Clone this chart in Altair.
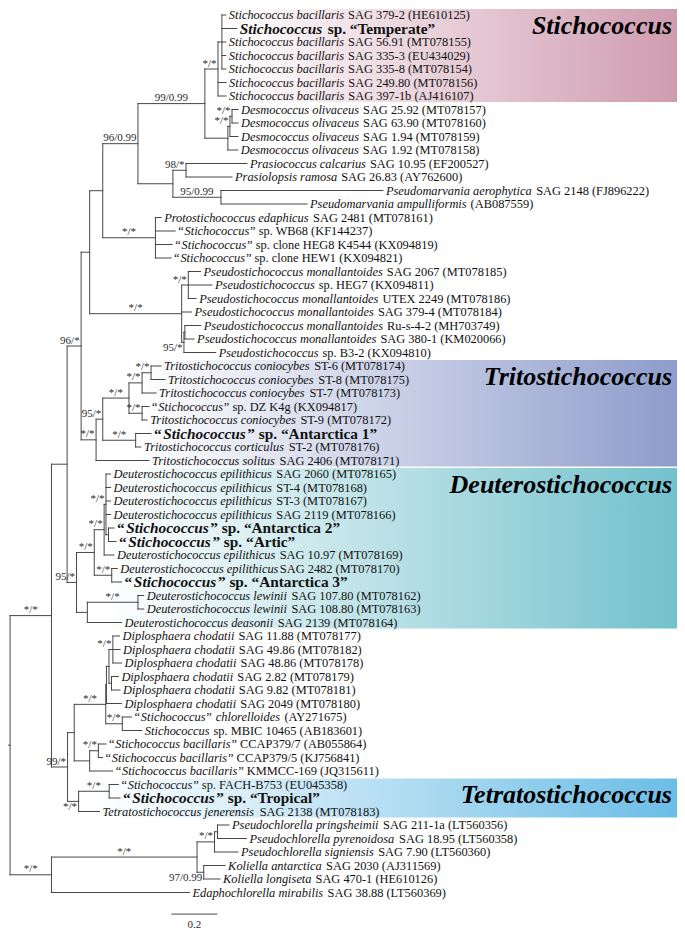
import re
import altair as alt
import pandas as pd

# ---------------- data ----------------
leaf_labels = [
    "*Stichococcus bacillaris* SAG 379-2 (HE610125)",
    "*Stichococcus* sp. “Temperate”",
    "*Stichococcus bacillaris* SAG 56.91 (MT078155)",
    "*Stichococcus bacillaris* SAG 335-3 (EU434029)",
    "*Stichococcus bacillaris* SAG 335-8 (MT078154)",
    "*Stichococcus bacillaris* SAG 249.80 (MT078156)",
    "*Stichococcus bacillaris* SAG 397-1b (AJ416107)",
    "*Desmococcus olivaceus* SAG 25.92 (MT078157)",
    "*Desmococcus olivaceus* SAG 63.90 (MT078160)",
    "*Desmococcus olivaceus* SAG 1.94 (MT078159)",
    "*Desmococcus olivaceus* SAG 1.92 (MT078158)",
    "*Prasiococcus calcarius* SAG 10.95 (EF200527)",
    "*Prasiolopsis ramosa* SAG 26.83 (AY762600)",
    "*Pseudomarvania aerophytica* SAG 2148 (FJ896222)",
    "*Pseudomarvania ampulliformis* (AB087559)",
    "*Protostichococcus edaphicus* SAG 2481 (MT078161)",
    "“*Stichococcus*” sp. WB68 (KF144237)",
    "“*Stichococcus*” sp. clone HEG8 K4544 (KX094819)",
    "“*Stichococcus*” sp. clone HEW1 (KX094821)",
    "*Pseudostichococcus monallantoides* SAG 2067 (MT078185)",
    "*Pseudostichococcus* sp. HEG7 (KX094811)",
    "*Pseudostichococcus monallantoides* UTEX 2249 (MT078186)",
    "*Pseudostichococcus monallantoides* SAG 379-4 (MT078184)",
    "*Pseudostichococcus monallantoides* Ru-s-4-2 (MH703749)",
    "*Pseudostichococcus monallantoides* SAG 380-1 (KM020066)",
    "*Pseudostichococcus* sp. B3-2 (KX094810)",
    "*Tritostichococcus coniocybes* ST-6 (MT078174)",
    "*Tritostichococcus coniocybes* ST-8 (MT078175)",
    "*Tritostichococcus coniocybes* ST-7 (MT078173)",
    "“*Stichococcus*” sp. DZ K4g (KX094817)",
    "*Tritostichococcus coniocybes* ST-9 (MT078172)",
    "“*Stichococcus*” sp. “Antarctica 1”",
    "*Tritostichococcus corticulus* ST-2 (MT078176)",
    "*Tritostichococcus solitus* SAG 2406 (MT078171)",
    "*Deuterostichococcus epilithicus* SAG 2060 (MT078165)",
    "*Deuterostichococcus epilithicus* ST-4 (MT078168)",
    "*Deuterostichococcus epilithicus* ST-3 (MT078167)",
    "*Deuterostichococcus epilithicus* SAG 2119 (MT078166)",
    "“*Stichococcus*” sp. “Antarctica 2”",
    "“*Stichococcus*” sp. “Artic”",
    "*Deuterostichococcus epilithicus* SAG 10.97 (MT078169)",
    "*Deuterostichococcus epilithicus*SAG 2482 (MT078170)",
    "“*Stichococcus*” sp. “Antarctica 3”",
    "*Deuterostichococcus lewinii* SAG 107.80 (MT078162)",
    "*Deuterostichococcus lewinii* SAG 108.80 (MT078163)",
    "*Deuterostichococcus deasonii* SAG 2139 (MT078164)",
    "*Diplosphaera chodatii* SAG 11.88 (MT078177)",
    "*Diplosphaera chodatii* SAG 49.86 (MT078182)",
    "*Diplosphaera chodatii* SAG 48.86 (MT078178)",
    "*Diplosphaera chodatii* SAG 2.82 (MT078179)",
    "*Diplosphaera chodatii* SAG 9.82 (MT078181)",
    "*Diplosphaera chodatii* SAG 2049 (MT078180)",
    "“*Stichococcus*” *chlorelloides* (AY271675)",
    "*Stichococcus* sp. MBIC 10465 (AB183601)",
    "“*Stichococcus bacillaris*” CCAP379/7 (AB055864)",
    "“*Stichococcus bacillaris*” CCAP379/5 (KJ756841)",
    "“*Stichococcus bacillaris*” KMMCC-169 (JQ315611)",
    "“*Stichococcus*” sp. FACH-B753 (EU045358)",
    "“*Stichococcus*” sp. “Tropical”",
    "*Tetratostichococcus jenerensis* SAG 2138 (MT078183)",
    "*Pseudochlorella pringsheimii* SAG 211-1a (LT560356)",
    "*Pseudochlorella pyrenoidosa* SAG 18.95 (LT560358)",
    "*Pseudochlorella signiensis* SAG 7.90 (LT560360)",
    "*Koliella antarctica* SAG 2030 (AJ311569)",
    "*Koliella longiseta* SAG 470-1 (HE610126)",
    "*Edaphochlorella mirabilis* SAG 38.88 (LT560369)",
]
bold_leaves = [2, 32, 39, 40, 43, 59]

# clades in Newick (Ln = leaf n above); branch lengths in substitutions/site,
# node labels = bootstrap / posterior probability
stichococcus = "((L1:0.017,L2:0.065,L3:0.017,L4:0.017,L5:0.017):0.017,L6:0.035,L7:0.035)'*/*':0.057"
desmococcus = "(((L8:0.026,L9:0.026)'*/*':0.009,L10:0.035)'*/*':0.009,L11:0.043):0.100"
prasiola = "((L12:0.265,L13:0.200)'98/*':0.057,(L14:0.704,L15:0.374)'95/0.99':0.209):0.152"
protostich = "(L16:0.025,L17:0.086,L18:0.073,L19:0.068)'*/*':0.229"
pseudostich = ("((L20:0.053,L21:0.103,L22:0.034)'*/*':0.029,L23:0.043,"
               "((L24:0.069,L25:0.040):0.004,L26:0.138)'95/*':0.010)'*/*':0.400")
tritostich = ("(((((L27:0.043,L28:0.061)'*/*':0.039,L29:0.061)'*/*':0.057,"
              "(L30:0.030,L31:0.022)'*/*':0.057)'*/*':0.114,(L32:0.067,L33:0.023)'*/*':0.143)'95/*':0.029,"
              "L34:0.230)'*/*':0.065")
deutero = ("((((L35:0.020,L36:0.020,L37:0.020,L38:0.020,(L39:0.024,L40:0.033):0.011)'*/*':0.008,"
           "L41:0.043)'*/*':0.043,(L42:0.024,L43:0.043)'*/*':0.076)'*/*':0.077,"
           "((L44:0.025,L45:0.025)'*/*':0.220,L46:0.149):0.047)'95/*':0.041")
diplo = ("((((L47:0.029,L48:0.031,L49:0.038)'*/*':0.017,(L50:0.030,L51:0.037):0.011):0.011,"
         "L52:0.065):0.003,(L53:0.040,L54:0.085)'*/*':0.072)'*/*':0.137")
ccap = "((L55:0.033,L56:0.018)'*/*':0.038,L57:0.100):0.067"
tetra = "((L58:0.040,L59:0.047)'*/*':0.133,L60:0.091)'*/*':0.048"
outgroup = ("((((L61:0.050,L62:0.126):0.013,L63:0.102)'*/*':0.076,"
            "(L64:0.093,L65:0.071)'97/0.99':0.029)'*/*':0.633,L66:0.600)'*/*':0.180")

sd = f"({stichococcus},{desmococcus})'99/0.99':0.291"
pp = f"({sd},{prasiola})'96/0.99':0.153"
qq = f"({pp},{protostich}):0.057"
rr = f"({qq},{pseudostich}):0.037"
ss = f"({rr},{tritostich})'96/*':0.061"
tt = f"({ss},{deutero}):0.068"
dc = f"({diplo},{ccap}):0.029"
td = f"({dc},{tetra})'99/*':0.070"
ingroup = f"({tt},{td})'*/*':0.180"
tree_newick = f"({ingroup},{outgroup}):0.009;"

# support labels drawn under their branch (node given by first/last leaf)
labels_below = [(24, 26), (58, 60), (64, 65)]

clade_names = ["Stichococcus", "Tritostichococcus", "Deuterostichococcus", "Tetratostichococcus"]
clade_first = [1, 27, 35, 58]
clade_last = [7, 34, 46, 60]
clade_colors = ["#cf9caf", "#8e9ccb", "#72c1cc", "#6bbde6"]

scale_bar_start = 0.71
scale_bar_len = 0.2

# ---------------- layout constants ----------------
PX = 230.0          # px per substitution unit
W, H = 669, 923
LEAF_PX = 13.5
XMAX = W / PX
Y0 = 1 - 7 / LEAF_PX
Y1 = Y0 + H / LEAF_PX
FONT = "Liberation Serif"
LEAF_SIZE = 12.4
BOLD_SIZE = 15.3
SUP_SIZE = 11
LINE = "#474747"

# Times metrics (per 1000 em) for label offsets
_P = " ()-./0123456789“”"
_U = "ABCDEFGHIJKLMNOPQRSTUVWXYZ"
_L = "abcdefghijklmnopqrstuvwxyz"


def _table(p, u, l):
    d = dict(zip(_P, p))
    d.update(zip(_U, u))
    d.update(zip(_L, l))
    return d


TABLES = {
    "r": _table([250, 333, 333, 333, 250, 278] + [500] * 10 + [444, 444],
                [722, 667, 667, 722, 611, 556, 722, 722, 333, 389, 722, 611, 889, 722, 722, 556, 722, 667, 556, 611, 722, 722, 944, 722, 722, 611],
                [444, 500, 444, 500, 444, 333, 500, 500, 278, 278, 500, 278, 778, 500, 500, 500, 500, 333, 389, 278, 500, 500, 722, 500, 500, 444]),
    "i": _table([250, 333, 333, 333, 250, 278] + [500] * 10 + [556, 556],
                [611, 611, 667, 722, 611, 611, 722, 722, 333, 444, 667, 556, 833, 667, 722, 611, 722, 611, 500, 556, 722, 611, 833, 611, 556, 556],
                [500, 500, 444, 500, 444, 278, 500, 500, 278, 278, 444, 278, 722, 500, 500, 500, 500, 389, 389, 278, 500, 444, 667, 444, 444, 389]),
    "b": _table([250, 333, 333, 333, 250, 278] + [500] * 10 + [500, 500],
                [722, 667, 722, 722, 667, 611, 778, 778, 389, 500, 778, 667, 944, 722, 778, 611, 778, 722, 556, 667, 722, 722, 1000, 722, 722, 667],
                [500, 556, 444, 556, 444, 333, 500, 556, 278, 333, 556, 278, 833, 556, 500, 556, 556, 444, 389, 333, 556, 500, 722, 500, 500, 444]),
    "bi": _table([250, 333, 333, 333, 250, 278] + [500] * 10 + [500, 500],
                 [667, 667, 667, 722, 667, 667, 722, 778, 389, 500, 667, 611, 889, 722, 722, 611, 722, 667, 556, 611, 722, 667, 889, 667, 611, 611],
                 [500, 500, 444, 500, 444, 333, 500, 556, 278, 278, 500, 278, 778, 556, 500, 500, 500, 389, 389, 278, 556, 444, 667, 500, 444, 389]),
}


def text_w(s, style, size):
    t = TABLES[style]
    return sum(t.get(ch, 500) for ch in s) * size / 1000.0


def parse_newick(s):
    s = s.strip().rstrip(";")
    pos = 0

    def node():
        nonlocal pos
        n = {"children": [], "name": None, "support": "", "len": 0.0}
        if s[pos] == "(":
            pos += 1
            while True:
                n["children"].append(node())
                c = s[pos]
                pos += 1
                if c == ")":
                    break
        if pos < len(s) and s[pos] == "'":
            end = s.index("'", pos + 1)
            n["support"] = s[pos + 1:end]
            pos = end + 1
        else:
            m = re.match(r"[A-Za-z0-9_]*", s[pos:])
            n["name"] = m.group(0) or None
            pos += m.end()
        if pos < len(s) and s[pos] == ":":
            m = re.match(r":([0-9.]+)", s[pos:])
            n["len"] = float(m.group(1))
            pos += m.end()
        return n

    return node()


root = parse_newick(tree_newick)
hseg, vseg, sup_rows, leaves = [], [], [], []


def layout(n, px):
    x = px + n["len"]
    if n["children"]:
        res = [layout(c, x) for c in n["children"]]
        y = (res[0][0] + res[-1][0]) / 2
        first, last = res[0][1], res[-1][2]
        vseg.append(dict(x=x, y0=res[0][0], y1=res[-1][0]))
    else:
        idx = int(n["name"][1:])
        y = float(idx)
        first = last = idx
        leaves.append(dict(idx=idx, x=x, y=y))
    hseg.append(dict(x0=px, x1=x, y=y))
    if n["support"]:
        w = text_w(n["support"], "r", SUP_SIZE)
        stem = (x - px) * PX
        cx = (x + px) / 2 if stem >= w + 8 else x - (1.5 + w / 2) / PX
        below = (first, last) in labels_below
        sup_rows.append(dict(x=cx, y=y + (0.4 if below else -0.4), text=n["support"]))
    return y, first, last


layout(root, 0.0)

# leaf label segments (italic / roman / bold parts)
seg_rows = []
label_start = {}
for lf in leaves:
    i = lf["idx"]
    bold = i in bold_leaves
    size = BOLD_SIZE if bold else LEAF_SIZE
    off = 3.0
    label_start[i] = lf["x"] + off / PX
    prev = None
    for part in re.split(r"(\*[^*]+\*)", leaf_labels[i - 1]):
        if not part:
            continue
        ital = part.startswith("*") and part.endswith("*") and len(part) > 2
        txt = part[1:-1] if ital else part
        style = ("bi" if ital else "b") if bold else ("i" if ital else "r")
        if prev is not None and prev != ital:
            off += 1.6 if bold else 0.8   # small gap at italic/roman junctions
        lead = len(txt) - len(txt.lstrip(" "))
        start = off + text_w(" " * lead, style, size)
        if txt.strip():
            seg_rows.append(dict(x=lf["x"] + start / PX, y=lf["y"], text=txt.strip(), style=style))
        off += text_w(txt, style, size)
        prev = ital

seg_df = pd.DataFrame(seg_rows)
h_df = pd.DataFrame(hseg)
v_df = pd.DataFrame(vseg)
sup_df = pd.DataFrame(sup_rows)

box_rows = []
for name, f, l, c in zip(clade_names, clade_first, clade_last, clade_colors):
    left = min(label_start[k] for k in range(f, l + 1)) - 6 / PX
    box_rows.append(dict(name=name, x0=left, x1=XMAX, y0=f - 0.45, y1=l + 0.45,
                         hy=min(f + 1, (f + l) / 2) - 0.2, hx=XMAX - 5 / PX, color=c))
box_df = pd.DataFrame(box_rows)

scale_df = pd.DataFrame([dict(x0=scale_bar_start, x1=scale_bar_start + scale_bar_len,
                              xm=scale_bar_start + scale_bar_len / 2, y=67.6, yt=68.4,
                              text=f"{scale_bar_len:g}")])

# ---------------- chart ----------------
XS = alt.Scale(domain=[0, XMAX], nice=False, zero=False)
YS = alt.Scale(domain=[Y0, Y1], reverse=True, nice=False, zero=False)


def xq(f):
    return alt.X(f, type="quantitative", scale=XS, axis=None)


def yq(f):
    return alt.Y(f, type="quantitative", scale=YS, axis=None)


layers = []
for row in box_rows:
    grad = alt.LinearGradient(
        gradient="linear", x1=0, x2=1, y1=0, y2=0,
        stops=[alt.GradientStop(color="#ffffff", offset=0),
               alt.GradientStop(color=row["color"], offset=1)])
    layers.append(
        alt.Chart(box_df[box_df["name"] == row["name"]]).mark_rect(color=grad, strokeWidth=0)
        .encode(x=xq("x0"), x2=alt.X2("x1"), y=yq("y0"), y2=alt.Y2("y1"))
    )

layers.append(
    alt.Chart(h_df).mark_rule(color=LINE, strokeWidth=1, strokeCap="square")
    .encode(x=xq("x0"), x2=alt.X2("x1"), y=yq("y"))
)
layers.append(
    alt.Chart(v_df).mark_rule(color=LINE, strokeWidth=1, strokeCap="square")
    .encode(x=xq("x"), y=yq("y0"), y2=alt.Y2("y1"))
)

style_props = {
    "r": dict(fontSize=LEAF_SIZE, fontStyle="normal", fontWeight="normal"),
    "i": dict(fontSize=LEAF_SIZE, fontStyle="italic", fontWeight="normal"),
    "b": dict(fontSize=BOLD_SIZE, fontStyle="normal", fontWeight="bold"),
    "bi": dict(fontSize=BOLD_SIZE, fontStyle="italic", fontWeight="bold"),
}
for st, props in style_props.items():
    sub = seg_df[seg_df["style"] == st]
    if len(sub) == 0:
        continue
    layers.append(
        alt.Chart(sub).mark_text(align="left", baseline="middle", font=FONT, color="#111111", **props)
        .encode(x=xq("x"), y=yq("y"), text="text:N")
    )

layers.append(
    alt.Chart(sup_df).mark_text(align="center", baseline="middle", font=FONT,
                                fontSize=SUP_SIZE, color="#2a2a2a")
    .encode(x=xq("x"), y=yq("y"), text="text:N")
)

layers.append(
    alt.Chart(box_df).mark_text(align="right", baseline="middle", font=FONT, fontSize=26,
                                fontStyle="italic", fontWeight="bold", color="#000000")
    .encode(x=xq("hx"), y=yq("hy"), text="name:N")
)

layers.append(
    alt.Chart(scale_df).mark_rule(color=LINE, strokeWidth=1)
    .encode(x=xq("x0"), x2=alt.X2("x1"), y=yq("y"))
)
layers.append(
    alt.Chart(scale_df).mark_text(align="center", baseline="middle", font=FONT,
                                  fontSize=SUP_SIZE, color="#2a2a2a")
    .encode(x=xq("xm"), y=yq("yt"), text="text:N")
)

chart = (
    alt.layer(*layers)
    .properties(width=W, height=H, padding=0,
                autosize=alt.AutoSizeParams(type="none"), background="white")
    .configure_view(stroke=None)
)

chart.save("out.html", embed_options={"renderer": "svg", "actions": False})
